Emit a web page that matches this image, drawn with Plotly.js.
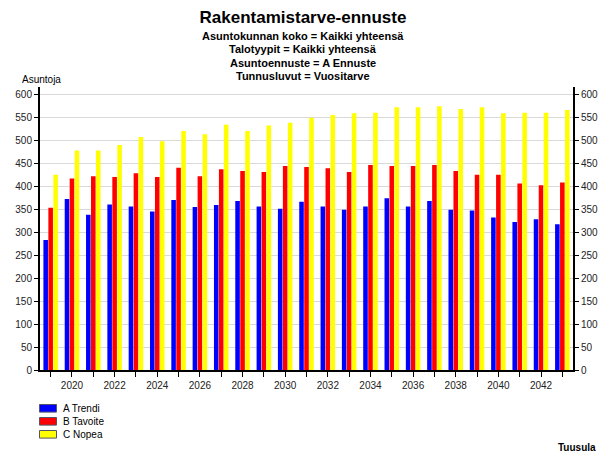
<!DOCTYPE html>
<html>
<head>
<meta charset="utf-8">
<script src="https://cdn.plot.ly/plotly-3.0.1.min.js"></script>
<style>html,body{margin:0;padding:0;background:#fff;}#chart{width:606px;height:455px;}</style>
</head>
<body>
<div id="chart"></div>
<script>
const years = [2019,2020,2021,2022,2023,2024,2025,2026,2027,2028,2029,2030,2031,2032,2033,2034,2035,2036,2037,2038,2039,2040,2041,2042,2043];
const tickLabels = years.map(y => (y % 2 === 0 ? String(y) : ''));
const seriesNames = ['A Trendi', 'B Tavoite', 'C Nopea'];
const trendi  = [283,372,338,360,356,345,370,355,359,368,356,351,366,356,349,356,374,356,368,349,347,332,322,328,317];
const tavoite = [353,417,422,420,428,420,440,422,437,433,431,444,442,439,431,446,444,444,446,433,425,425,406,402,408];
const nopea   = [425,478,478,490,507,498,520,513,534,520,532,538,549,555,559,560,572,572,574,568,572,559,560,560,566];
const titleText = 'Rakentamistarve-ennuste';
const subtitles = ['Asuntokunnan koko = Kaikki yhteensä','Talotyypit = Kaikki yhteensä','Asuntoennuste = A Ennuste','Tunnusluvut = Vuositarve'];
const yLabel = 'Asuntoja';
const footer = 'Tuusula';

const W = 606, H = 455;
const M = {l: 40, r: 33, t: 87, b: 85, autoexpand: false};
const PW = W - M.l - M.r, PH = H - M.t - M.b;
const px2x = p => (p - M.l) / PW;
const py2y = p => (H - M.b - p) / PH;
const FONT = 'Liberation Sans, Arial, sans-serif';
const colors = ['#0000ff', '#ff0000', '#ffff00'];

const traces = [trendi, tavoite, nopea].map((vals, i) => ({
  type: 'bar', x: years, y: vals, name: seriesNames[i], showlegend: false,
  marker: {color: colors[i], line: {width: 0}}
}));
traces.push({type: 'scatter', x: [], y: [], yaxis: 'y2', showlegend: false, hoverinfo: 'skip'});

const annotations = subtitles.map((s, i) => ({
  text: '<b>' + s + '</b>', xref: 'paper', yref: 'paper',
  x: px2x(303), y: py2y(36 + i * 13.3), xanchor: 'center', yanchor: 'middle',
  showarrow: false, font: {family: FONT, size: 11, color: '#000'}
}));
annotations.push({text: yLabel, xref: 'paper', yref: 'paper', x: px2x(20), y: py2y(79),
  xanchor: 'left', yanchor: 'middle', showarrow: false, font: {family: FONT, size: 10, color: '#000'}});
annotations.push({text: '<b>' + footer + '</b>', xref: 'paper', yref: 'paper', x: px2x(598), y: py2y(447),
  xanchor: 'right', yanchor: 'middle', showarrow: false, font: {family: FONT, size: 10, color: '#000'}});

// custom legend (swatch + label)
const shapes = [];
seriesNames.forEach((name, i) => {
  const cy = 408.3 + i * 13;
  shapes.push({type: 'rect', xref: 'paper', yref: 'paper',
    x0: px2x(39.5), x1: px2x(56.5), y0: py2y(cy - 3.8), y1: py2y(cy + 3.8),
    fillcolor: colors[i], line: {color: '#555566', width: 1}});
  annotations.push({text: name, xref: 'paper', yref: 'paper', x: px2x(61), y: py2y(cy),
    xanchor: 'left', yanchor: 'middle', showarrow: false, font: {family: FONT, size: 10, color: '#000'}});
});

const yAxisCommon = {
  range: [0, 616], dtick: 50, tick0: 0, ticks: 'outside', ticklen: 4, tickwidth: 1, tickcolor: '#000',
  showline: true, linewidth: 2, linecolor: '#000', zeroline: false,
  tickfont: {family: FONT, size: 10, color: '#222'}, fixedrange: true
};

const layout = {
  width: W, height: H, margin: M,
  paper_bgcolor: '#fff', plot_bgcolor: '#fff',
  font: {family: FONT, size: 10, color: '#000'},
  title: {text: '<b>' + titleText + '</b>', x: (M.l + px2x(303) * PW) / W, xanchor: 'center',
          y: 1 - 17 / H, yanchor: 'middle', font: {family: FONT, size: 17, color: '#000'}},
  barmode: 'group', bargap: 0.3, bargroupgap: 0.08,
  xaxis: {range: [2018.5, 2043.5], tickvals: years, ticktext: tickLabels, ticks: 'outside', ticklen: 5,
          tickwidth: 1, tickcolor: '#000', showline: true, linewidth: 2, linecolor: '#000',
          showgrid: false, zeroline: false, tickangle: 0, tickfont: {family: FONT, size: 10, color: '#222'}},
  yaxis: Object.assign({}, yAxisCommon, {showgrid: true, gridcolor: '#d9d9d9', gridwidth: 1}),
  yaxis2: Object.assign({}, yAxisCommon, {overlaying: 'y', side: 'right', showgrid: false}),
  showlegend: false,
  shapes: shapes,
  annotations: annotations
};

Plotly.newPlot('chart', traces, layout, {displayModeBar: false, staticPlot: true});
</script>
</body>
</html>
